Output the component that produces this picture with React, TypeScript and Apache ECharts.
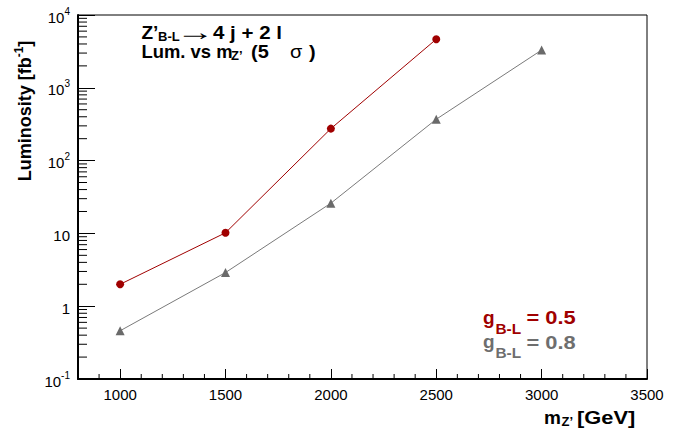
import React, { useEffect, useRef } from 'react';
import * as echarts from 'echarts';

// ---- data ----
const massG05 = [1000, 1500, 2000, 2500];
const lumiG05 = [2.0, 10.2, 275, 4650];
const massG08 = [1000, 1500, 2000, 2500, 3000];
const lumiG08 = [0.46, 2.9, 26, 370, 3300];
const legendLabels = ['= 0.5', '= 0.8'];

// ---- axis structure ----
const xMin = 800;
const xMax = 3500;
const yMin = 0.1;
const yMax = 10000;
const yDecadeExps = [-1, 0, 1, 2, 3];
const yMinorMultipliers = [2, 3, 4, 5, 6, 7, 8, 9];
const xMinorStep = 100;
const xMajorStep = 500;

const RED = '#a00000';
const GRAY_MARK = '#6a6a6a';
const GRAY_LINE = '#7a7a7a';
const GRAY_TEXT = '#6e6e6e';
const FONT = '"Liberation Sans", Arial, Helvetica, sans-serif';

function buildMinorTicks(): number[][] {
  const out: number[][] = [];
  yDecadeExps.forEach((e) => {
    yMinorMultipliers.forEach((m) => {
      out.push([xMin, m * Math.pow(10, e), 0]);
    });
  });
  for (let v = xMin + xMinorStep; v < xMax; v += xMinorStep) {
    if (v % xMajorStep !== 0) out.push([v, yMin, 1]);
  }
  return out;
}

function txt(
  text: string,
  x: number,
  y: number,
  size: number,
  color: string,
  opts: { scaleX?: number; weight?: string } = {}
) {
  return {
    type: 'text',
    x,
    y,
    scaleX: opts.scaleX ?? 1,
    silent: true,
    z: 100,
    style: {
      text,
      fill: color,
      fontSize: size,
      fontWeight: opts.weight ?? 'bold',
      fontFamily: FONT,
      align: 'left',
      verticalAlign: 'middle',
      textAlign: 'left',
      textVerticalAlign: 'middle',
    },
  };
}

export default function App() {
  const ref = useRef<HTMLDivElement>(null);

  useEffect(() => {
    if (!ref.current) return;
    const chart = echarts.init(ref.current, undefined, { renderer: 'svg' });

    const yLabelFormatter = (v: number) => {
      const e = Math.round(Math.log10(v));
      if (e === 0) return '1';
      if (e === 1) return '10';
      return '{b|10}{s|' + e + '}';
    };

    const graphic: any[] = [
      // y-axis title
      {
        type: 'text',
        x: 25,
        y: 111,
        rotation: Math.PI / 2,
        silent: true,
        style: {
          text: '{m|Luminosity [fb}{s|-1}{m|]}',
          fill: '#000',
          align: 'center',
          verticalAlign: 'middle',
          textAlign: 'center',
          textVerticalAlign: 'middle',
          rich: {
            m: { fontSize: 18, fontWeight: 'bold', fontFamily: FONT, lineHeight: 40, fill: '#000' },
            s: {
              fontSize: 12,
              fontWeight: 'bold',
              fontFamily: FONT,
              lineHeight: 12,
              verticalAlign: 'top',
              padding: [8, 0, 0, 0],
              fill: '#000',
            },
          },
        },
      },
      // x-axis title
      txt('m', 544, 417, 19, '#000'),
      txt('Z’', 561.5, 421, 13, '#000'),
      txt('[GeV]', 577, 417, 19, '#000', { scaleX: 1.15 }),
      // annotation line 1
      txt('Z’', 141.5, 32, 19, '#000'),
      txt('B-L', 158, 36.5, 13, '#000'),
      txt('→', 176, 32, 24, '#000', { scaleX: 1.6, weight: 'normal' }),
      txt('4 j + 2 l', 213, 32, 19, '#000', { scaleX: 1.08 }),
      // annotation line 2
      txt('Lum. vs m', 141.5, 51, 19, '#000', { scaleX: 0.97 }),
      txt('Z’', 231, 55.5, 13, '#000'),
      txt('(5', 251, 51, 19, '#000', { scaleX: 1.05 }),
      txt('σ', 290, 51, 19, '#000', { scaleX: 1.05, weight: 'normal' }),
      txt(')', 309, 51, 19, '#000', { scaleX: 1.05 }),
      // legend
      txt('g', 483, 317, 19, RED),
      txt('B-L', 495.5, 329, 14, RED, { scaleX: 1.1 }),
      txt(legendLabels[0], 526.5, 317, 19, RED, { scaleX: 1.15 }),
      txt('g', 483, 341.7, 19, GRAY_TEXT),
      txt('B-L', 495.5, 353.5, 14, GRAY_TEXT, { scaleX: 1.1 }),
      txt(legendLabels[1], 526.5, 341.7, 19, GRAY_TEXT, { scaleX: 1.15 }),
    ];

    const option: any = {
      animation: false,
      backgroundColor: '#ffffff',
      grid: {
        left: 78,
        top: 15,
        width: 569,
        height: 364,
        show: true,
        borderColor: '#000',
        borderWidth: 1,
        backgroundColor: 'transparent',
        containLabel: false,
        outerBoundsMode: 'none',
      },
      xAxis: {
        type: 'value',
        min: xMin,
        max: xMax,
        splitNumber: 5,
        axisLine: { show: true, onZero: false, lineStyle: { color: '#000', width: 2 } },
        axisTick: { show: true, inside: true, length: 10, lineStyle: { color: '#000', width: 1 } },
        axisLabel: {
          showMinLabel: false,
          color: '#000',
          fontSize: 15,
          fontFamily: FONT,
          margin: 8,
          formatter: (v: number) => String(v),
        },
        splitLine: { show: false },
      },
      yAxis: {
        type: 'log',
        logBase: 10,
        min: yMin,
        max: yMax,
        axisLine: { show: true, onZero: false, lineStyle: { color: '#000', width: 2 } },
        axisTick: { show: true, inside: true, length: 17, lineStyle: { color: '#000', width: 1 } },
        axisLabel: {
          color: '#000',
          fontSize: 15,
          fontFamily: FONT,
          margin: 8,
          padding: [4, 0, 0, 0],
          formatter: yLabelFormatter,
          rich: {
            b: { fontSize: 15, fontFamily: FONT, color: '#000', lineHeight: 30 },
            s: {
              fontSize: 10,
              fontFamily: FONT,
              color: '#000',
              lineHeight: 10,
              verticalAlign: 'top',
              padding: [4, 0, 0, 0],
            },
          },
        },
        splitLine: { show: false },
      },
      series: [
        {
          type: 'custom',
          silent: true,
          clip: false,
          z: 5,
          renderItem: (_p: any, api: any) => {
            const pt = api.coord([api.value(0), api.value(1)]);
            const vertical = api.value(2) === 1;
            return {
              type: 'line',
              shape: vertical
                ? { x1: pt[0], y1: pt[1], x2: pt[0], y2: pt[1] - 5 }
                : { x1: pt[0], y1: pt[1], x2: pt[0] + 9, y2: pt[1] },
              style: { stroke: '#000', lineWidth: 1 },
            };
          },
          data: buildMinorTicks(),
        },
        {
          name: 'g05',
          type: 'line',
          data: massG05.map((m, i) => [m, lumiG05[i]]),
          symbol: 'circle',
          symbolSize: 8,
          itemStyle: { color: RED },
          lineStyle: { color: RED, width: 1 },
          z: 10,
        },
        {
          name: 'g08',
          type: 'line',
          data: massG08.map((m, i) => [m, lumiG08[i]]),
          symbol: 'triangle',
          symbolSize: 9,
          itemStyle: { color: GRAY_MARK },
          lineStyle: { color: GRAY_LINE, width: 1 },
          z: 10,
        },
      ],
      graphic,
    };

    chart.setOption(option);
    return () => chart.dispose();
  }, []);

  return (
    <div
      ref={ref}
      style={{ position: 'fixed', left: 0, top: 0, width: 683, height: 428, background: '#fff' }}
    />
  );
}
